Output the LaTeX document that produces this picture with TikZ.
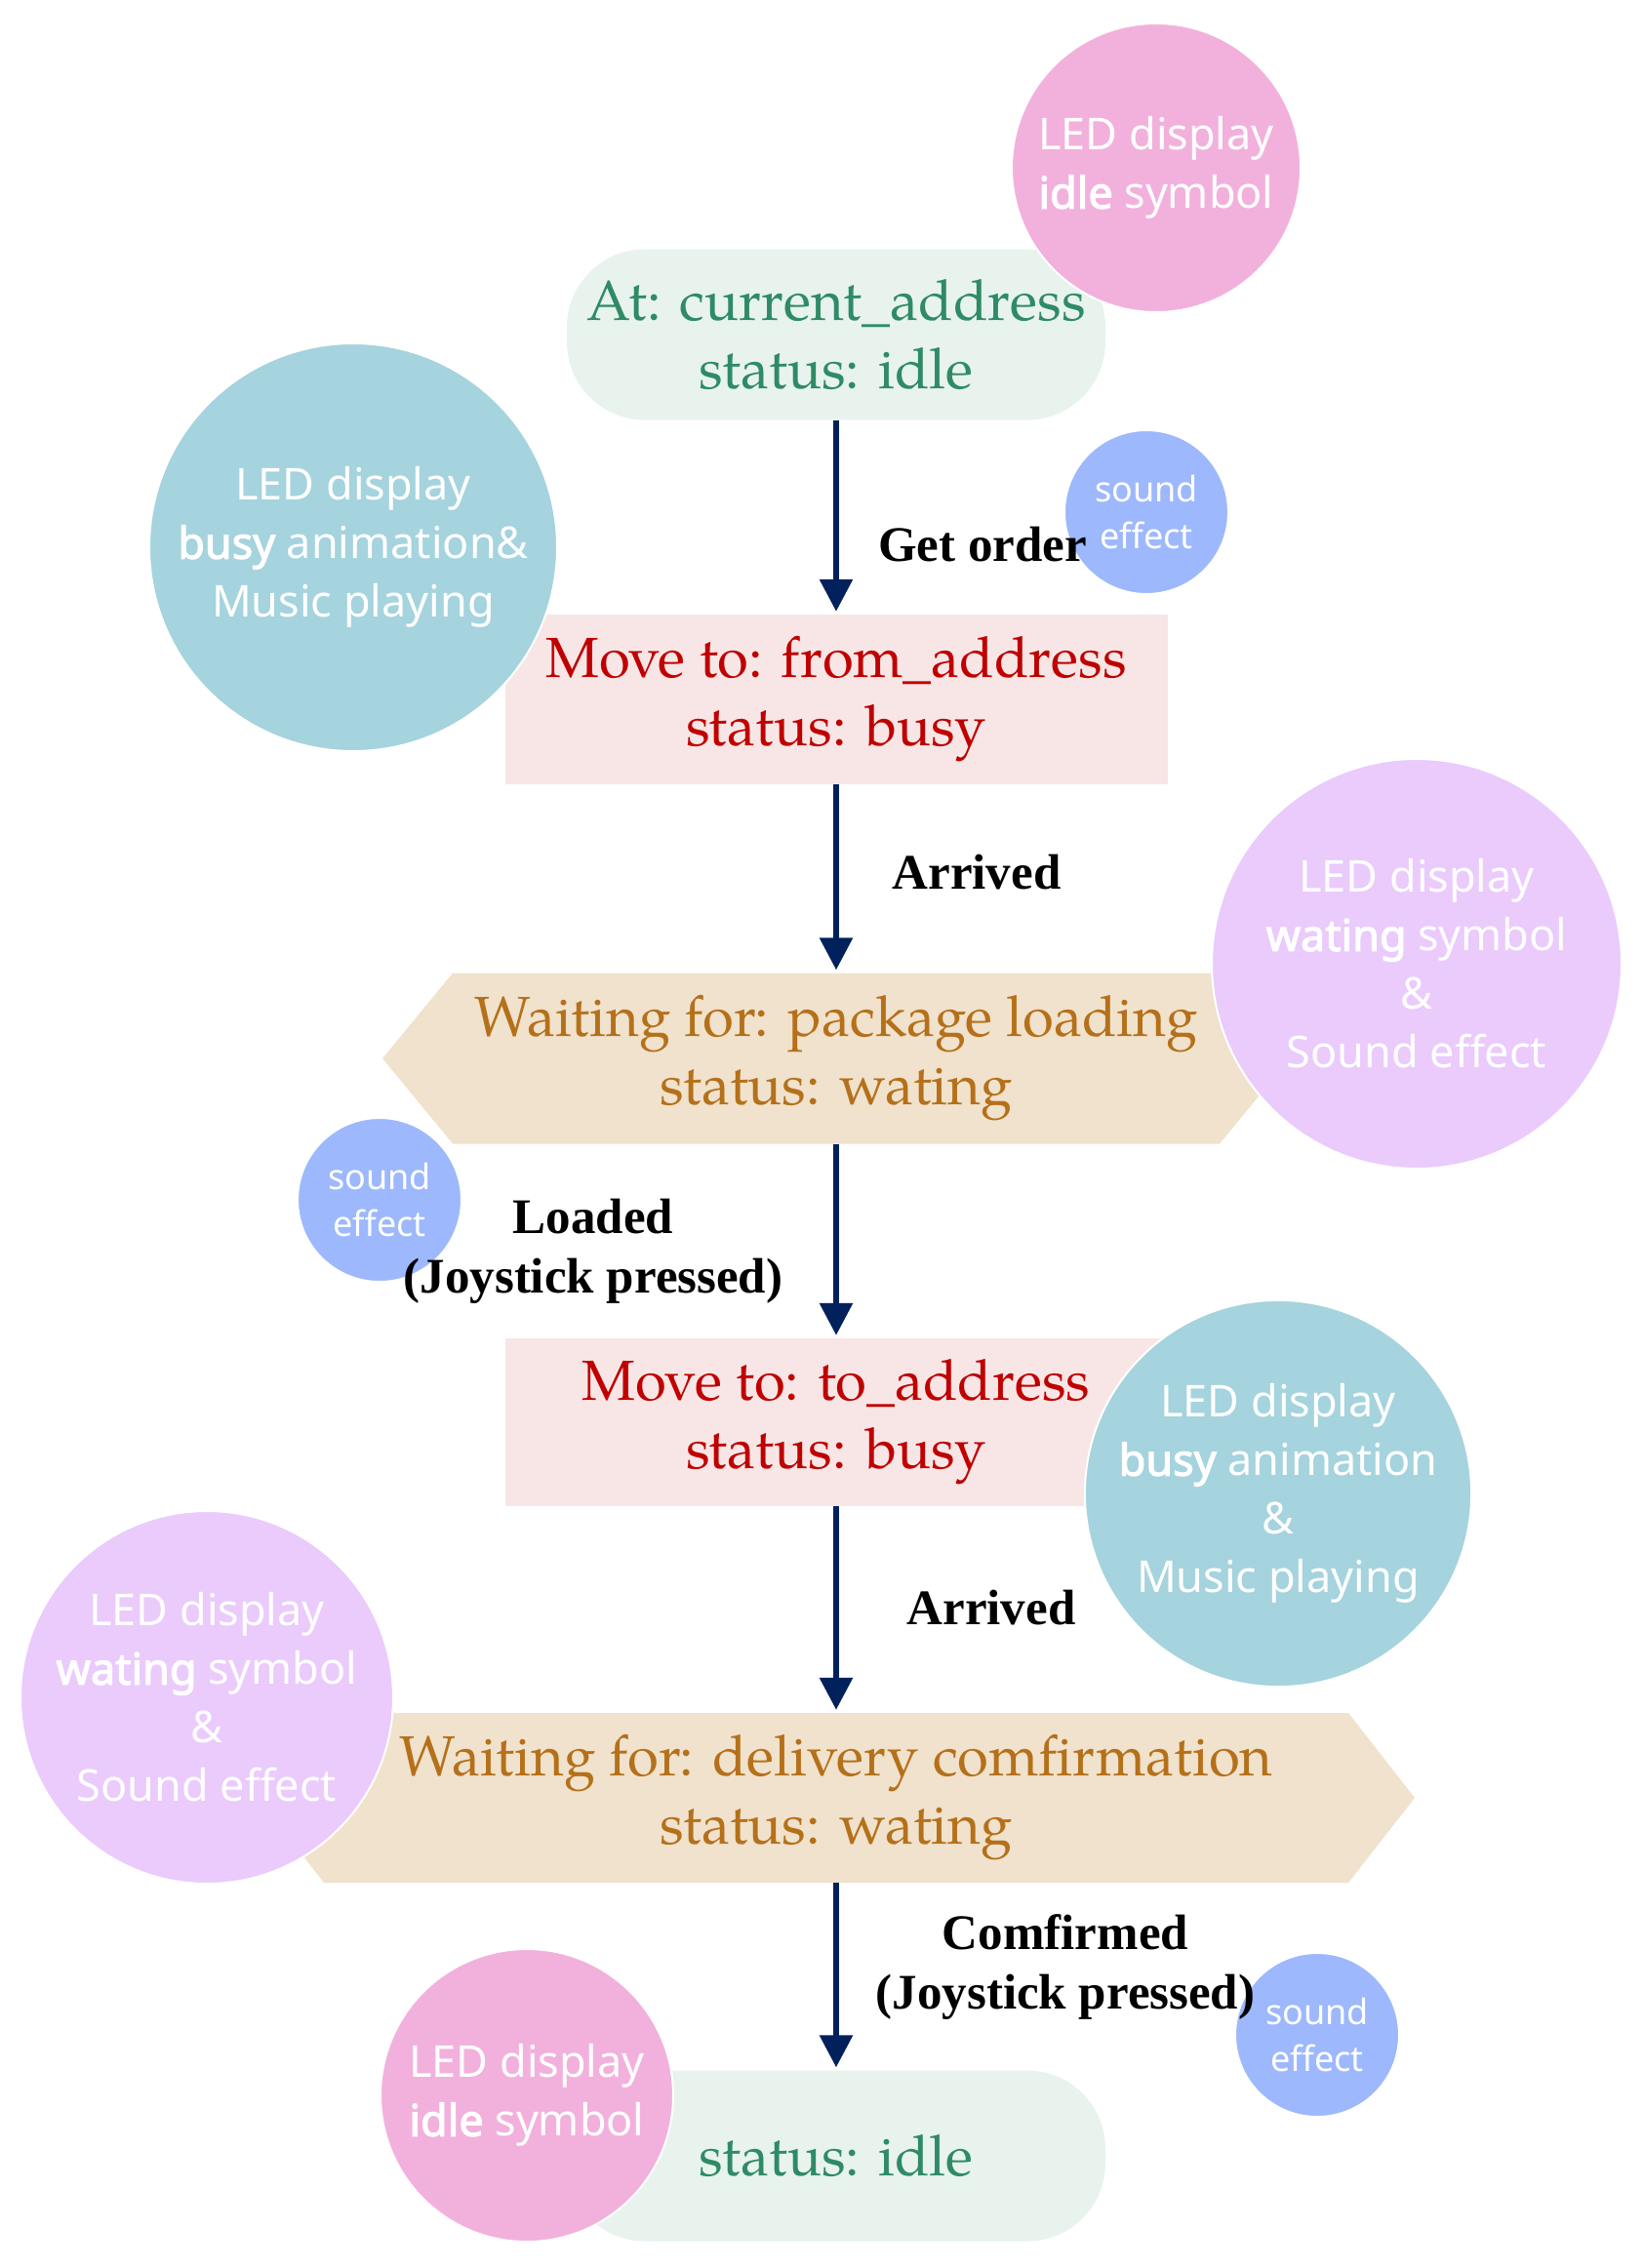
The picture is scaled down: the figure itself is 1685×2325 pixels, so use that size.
\documentclass[tikz,border=0pt]{standalone}
\usepackage{fontspec}
\setmainfont{texgyrepagella-regular.otf}[BoldFont=texgyrepagella-bold.otf]
\newfontfamily\lblfamily{Liberation Serif}
\newfontfamily\circfamily{Noto Sans}[BoldFont={Noto Sans}, BoldFeatures={FakeBold=2.5}]
\usetikzlibrary{arrows.meta,calc}
\definecolor{greenfill}{HTML}{E8F3EE}
\definecolor{greentext}{HTML}{2E8B66}
\definecolor{pinkfill}{HTML}{F8E6E6}
\definecolor{redtext}{HTML}{C00000}
\definecolor{tanfill}{HTML}{F0E2CC}
\definecolor{tantext}{HTML}{B5701A}
\definecolor{pinkcirc}{HTML}{F2B1DC}
\definecolor{tealcirc}{HTML}{A5D3DE}
\definecolor{lavcirc}{HTML}{EACBFC}
\definecolor{bluecirc}{HTML}{9DB8FC}
\definecolor{navyline}{HTML}{00215C}
\newcommand\statetextfont{\fontsize{58}{70}\selectfont}
\newcommand\lbltextfont{\lblfamily\bfseries\fontsize{51}{61}\selectfont}
\newcommand\circbigfont{\circfamily\fontsize{45}{60}\selectfont}
\newcommand\circsmallfont{\circfamily\fontsize{36}{48}\selectfont}
\begin{document}
\begin{tikzpicture}[x=1pt,y=-1pt,
  state/.style={inner sep=0pt, align=center, font=\statetextfont},
  circ/.style={circle, draw=white, line width=2pt, inner sep=0pt, align=center, text=white, font=\circbigfont},
  smallcirc/.style={circ, fill=bluecirc, minimum size=168pt, font=\circsmallfont},
  lbl/.style={align=center, font=\lbltextfont, inner sep=0pt},
  edge/.style={draw=navyline, line width=6pt, -{Triangle[length=33pt,width=33pt]}, shorten >=3pt}]
\useasboundingbox (0,0) rectangle (1685,2325);

% state nodes
\node[state, fill=greenfill, text=greentext, rounded corners=80pt, minimum width=552pt, minimum height=175pt] (n1) at (857,343) {At: current\_address\\status: idle};
\node[state, fill=pinkfill, text=redtext, minimum width=679pt, minimum height=174pt] (n2) at (857,717) {Move to: from\_address\\status: busy};

\coordinate (c3) at (857,1085);
\fill[tanfill] ($(c3)+(-465,0)$) -- ($(c3)+(-393,-87.5)$) -- ($(c3)+(393,-87.5)$) -- ($(c3)+(465,0)$) -- ($(c3)+(393,87.5)$) -- ($(c3)+(-393,87.5)$) -- cycle;
\node[state, text=tantext, minimum width=931pt, minimum height=175pt] (n3) at (c3) {Waiting for: package loading\\status: wating};

\node[state, fill=pinkfill, text=redtext, minimum width=679pt, minimum height=172pt] (n4) at (857,1458) {Move to: to\_address\\status: busy};

\coordinate (c5) at (857,1843);
\fill[tanfill] ($(c5)+(-593,0)$) -- ($(c5)+(-525,-87)$) -- ($(c5)+(525,-87)$) -- ($(c5)+(593,0)$) -- ($(c5)+(525,87)$) -- ($(c5)+(-525,87)$) -- cycle;
\node[state, text=tantext, minimum width=1187pt, minimum height=174pt] (n5) at (c5) {Waiting for: delivery comfirmation\\status: wating};

\node[state, fill=greenfill, text=greentext, rounded corners=80pt, minimum width=552pt, minimum height=175pt] (n6) at (857,2210) {status: idle};

% annotation circles
\node[circ, fill=pinkcirc, minimum size=296pt] (p1) at (1185,172) {LED display\\\textbf{idle} symbol};
\node[circ, fill=tealcirc, minimum size=418pt] (t1) at (362,561) {LED display\\\textbf{busy} animation\&\\Music playing};
\node[smallcirc] (s1) at (1175,525) {sound\\effect};
\node[circ, fill=lavcirc, minimum size=420pt] (v1) at (1452,988) {LED display\\\textbf{wating} symbol\\\&\\Sound effect};
\node[smallcirc] (s2) at (389,1230) {sound\\effect};
\node[circ, fill=tealcirc, minimum size=382pt] (t2) at (1310,1531) {LED display\\\textbf{busy} animation\\\&\\Music playing};
\node[circ, fill=lavcirc, minimum size=382pt] (v2) at (212,1740) {LED display\\\textbf{wating} symbol\\\&\\Sound effect};
\node[smallcirc] (s3) at (1350,2086) {sound\\effect};
\node[circ, fill=pinkcirc, minimum size=300pt] (p2) at (540,2148) {LED display\\\textbf{idle} symbol};

% transitions
\draw[edge] (n1.south) -- (n2.north);
\draw[edge] (n2.south) -- (n3.north);
\draw[edge] (n3.south) -- (n4.north);
\draw[edge] (n4.south) -- (n5.north);
\draw[edge] (n5.south) -- (n6.north);

\node[lbl] (l1) at (1007,558) {Get order};
\node[lbl] (l2) at (1001,894) {Arrived};
\node[lbl] (l3) at (608,1283) {Loaded\\(Joystick pressed)};
\node[lbl] (l4) at (1016,1648) {Arrived};
\node[lbl] (l5) at (1092,2017) {Comfirmed\\(Joystick pressed)};
\end{tikzpicture}
\end{document}
